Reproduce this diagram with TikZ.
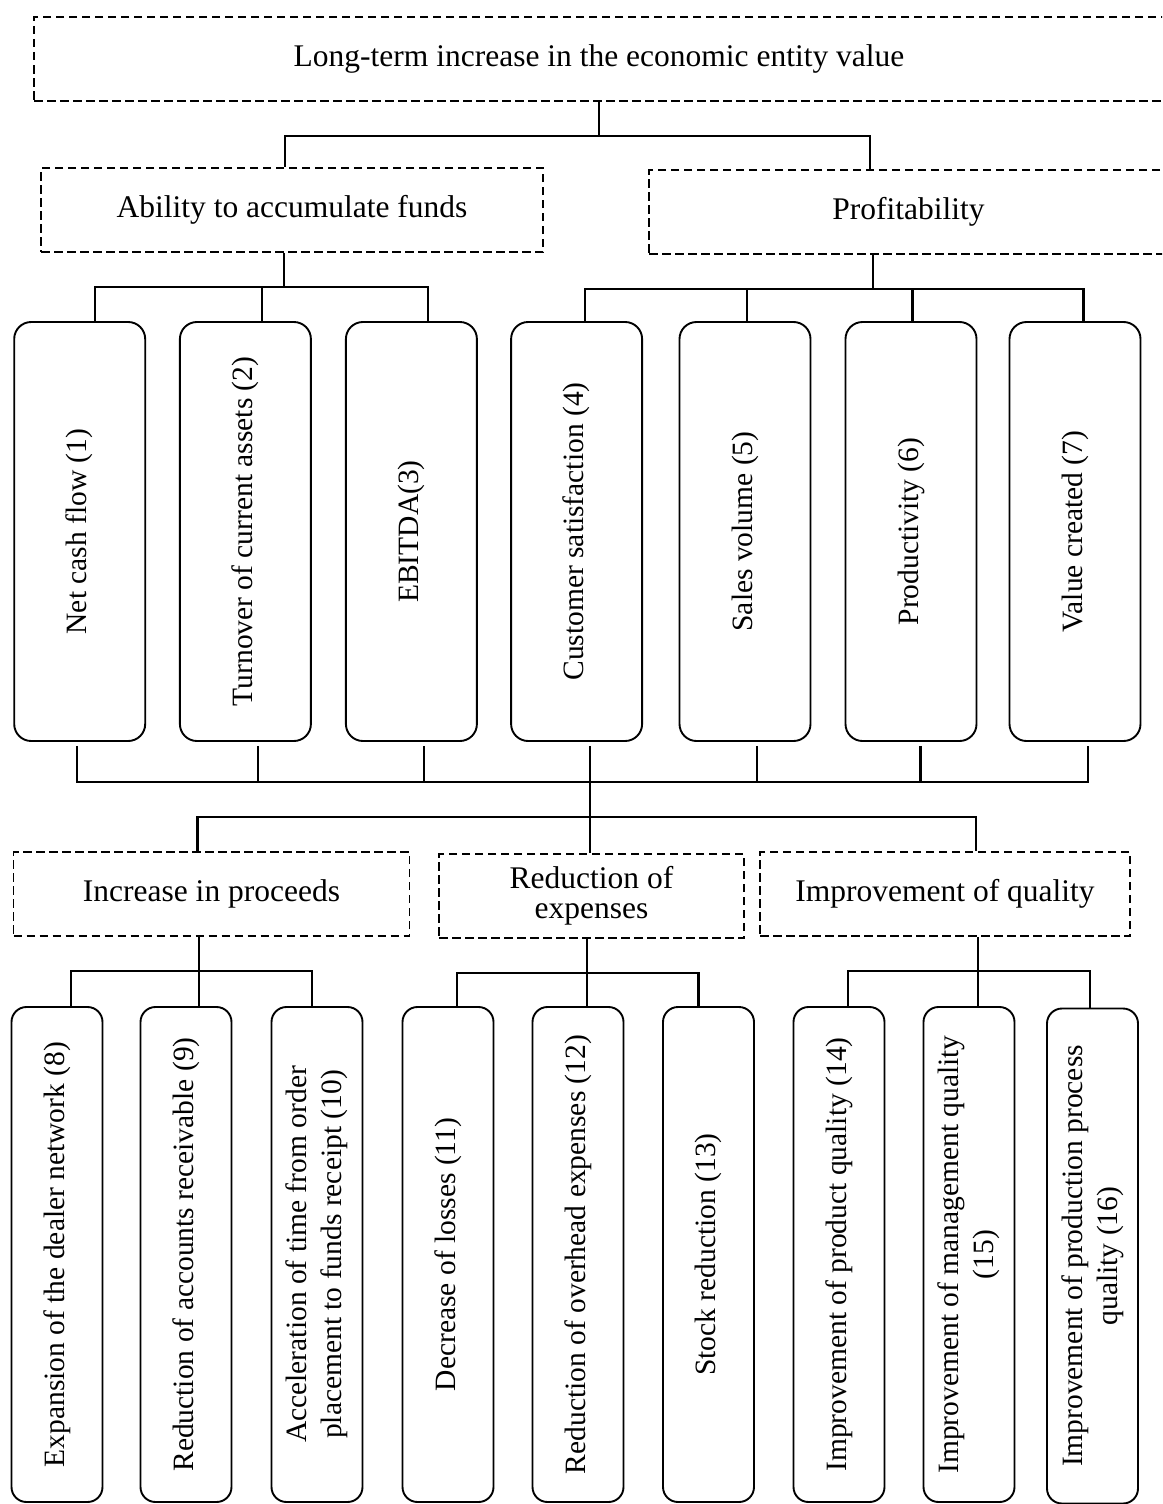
\documentclass[tikz,border=0pt]{standalone}
\usepackage{fontspec}
\setmainfont{Liberation Serif}
\newcommand\vtext[1]{\rotatebox{90}{\fontsize{29.5}{35}\selectfont\begin{tabular}{@{}c@{}}#1\end{tabular}}}
\begin{document}
\begin{tikzpicture}[x=1pt,y=-1pt,
  dbox/.style={draw, dash pattern=on 8.5pt off 4.5pt, line width=1.9pt, inner sep=0pt,
    minimum height=84pt, font=\fontsize{31.5}{30}\selectfont, align=center},
  rbox/.style={draw, rounded corners=17pt, line width=1.9pt, inner sep=0pt,
    minimum width=131pt, minimum height=419pt},
  sbox/.style={draw, rounded corners=15pt, line width=1.9pt, inner sep=0pt,
    minimum width=91pt, minimum height=495pt},
  conn/.style={line width=2.2pt},
]
\useasboundingbox (0,0) rectangle (1162,1504);
\clip (0,0) rectangle (1162,1504);

% level 0 and 1
\node[dbox, minimum width=1130pt] (top) at (599,59) {Long-term increase in the economic entity value};
\node[dbox, minimum width=502pt] (abil) at (292,210) {Ability to accumulate funds};
\node[dbox, minimum width=519pt] (prof) at (908.5,212) {Profitability};

% level 2
\node[rbox] (n1) at (79.7,531.5) {\vtext{Net cash flow (1)}};
\node[rbox] (n2) at (245.4,531.5) {\vtext{Turnover of current assets (2)}};
\node[rbox] (n3) at (411.4,531.5) {\vtext{EBITDA(3)}};
\node[rbox] (n4) at (576.6,531.5) {\vtext{Customer satisfaction (4)}};
\node[rbox] (n5) at (745,531.5) {\vtext{Sales volume (5)}};
\node[rbox] (n6) at (911,531.5) {\vtext{Productivity (6)}};
\node[rbox] (n7) at (1075,531.5) {\vtext{Value created (7)}};

% level 3
\node[dbox, minimum width=396pt] (inc) at (211.5,894) {Increase in proceeds};
\node[dbox, minimum width=305pt] (red) at (591.5,896) {Reduction of\\expenses};
\node[dbox, minimum width=370pt] (imp) at (945,894) {Improvement of quality};

% level 4
\node[sbox] (n8) at (57,1254.5) {\vtext{Expansion of the dealer network (8)}};
\node[sbox] (n9) at (186,1254.5) {\vtext{Reduction of accounts receivable (9)}};
\node[sbox] (n10) at (317,1254.5) {\vtext{Acceleration of time from order\\placement to funds receipt (10)}};
\node[sbox] (n11) at (448,1254.5) {\vtext{Decrease of losses (11)}};
\node[sbox] (n12) at (578,1254.5) {\vtext{Reduction of overhead expenses (12)}};
\node[sbox] (n13) at (708.5,1254.5) {\vtext{Stock reduction (13)}};
\node[sbox] (n14) at (839,1254.5) {\vtext{Improvement of product quality (14)}};
\node[sbox] (n15) at (969,1254.5) {\vtext{Improvement of management quality\\(15)}};
\node[sbox] (n16) at (1092.5,1256) {\vtext{Improvement of production process\\quality (16)}};

% connectors: top
\draw[conn] (top.south) -- ++(0,34) coordinate (j1);
\draw[conn] ([xshift=-7pt]abil.north) |- (j1) -| ([xshift=-38.5pt]prof.north);

% ability subtree
\draw[conn] ([xshift=-8pt]abil.south) -- ++(0,34) coordinate (j2);
\draw[conn] ([xshift=15.3pt]n1.north) |- (j2) -| ([xshift=16.6pt]n3.north);
\draw[conn] ([xshift=16.6pt]n2.north) -- ([xshift=16.6pt]n2.north |- j2);

% profitability subtree
\draw[conn] ([xshift=-35.5pt]prof.south) -- ++(0,34) coordinate (j3);
\draw[conn] ([xshift=8.4pt]n4.north) |- (j3) -| ([xshift=8.5pt]n7.north);
\draw[conn] ([xshift=2pt]n5.north) -- ([xshift=2pt]n5.north |- j3);
\draw[conn] ([xshift=1.5pt]n6.north) -- ([xshift=1.5pt]n6.north |- j3);

% collecting bus below level 2
\coordinate (b1) at (0,782);
\draw[conn] ([xshift=13.4pt,yshift=-4pt]n4.south) -- ++(0,71) coordinate (j4);
\draw[conn] ([xshift=-2.7pt,yshift=-4pt]n1.south) |- ([xshift=13pt]n7.south |- b1) -- ([xshift=13pt,yshift=-4pt]n7.south);
\draw[conn] ([xshift=12.6pt,yshift=-4pt]n2.south) -- ([xshift=12.6pt]n2.south |- b1);
\draw[conn] ([xshift=12.6pt,yshift=-4pt]n3.south) -- ([xshift=12.6pt]n3.south |- b1);
\draw[conn] ([xshift=12pt,yshift=-4pt]n5.south) -- ([xshift=12pt]n5.south |- b1);
\draw[conn] ([xshift=9.5pt,yshift=-4pt]n6.south) -- ([xshift=9.5pt]n6.south |- b1);

% to level 3
\draw[conn] ([xshift=-14pt]inc.north) |- (j4) -| ([xshift=31pt]imp.north);
\draw[conn] (j4) -- (j4 |- red.north);

% increase subtree
\coordinate (k1) at (0,971);
\coordinate (k2) at (0,973);
\draw[conn] ([xshift=13pt]n9.north) -- ([xshift=13pt]n9.north |- inc.south);
\draw[conn] ([xshift=13.8pt]n8.north) |- ([xshift=-5pt]n10.north |- k1) -- ([xshift=-5pt]n10.north);

% reduction subtree
\draw[conn] ([xshift=9pt]n12.north) -- ([xshift=9pt]n12.north |- red.south);
\draw[conn] ([xshift=9pt]n11.north) |- ([xshift=-10pt]n13.north |- k2) -- ([xshift=-10pt]n13.north);

% improvement subtree
\draw[conn] ([xshift=9pt]n15.north) -- ([xshift=9pt]n15.north |- imp.south);
\draw[conn] ([xshift=9pt]n14.north) |- ([xshift=-2.5pt]n16.north |- k1) -- ([xshift=-2.5pt]n16.north);
\end{tikzpicture}
\end{document}
